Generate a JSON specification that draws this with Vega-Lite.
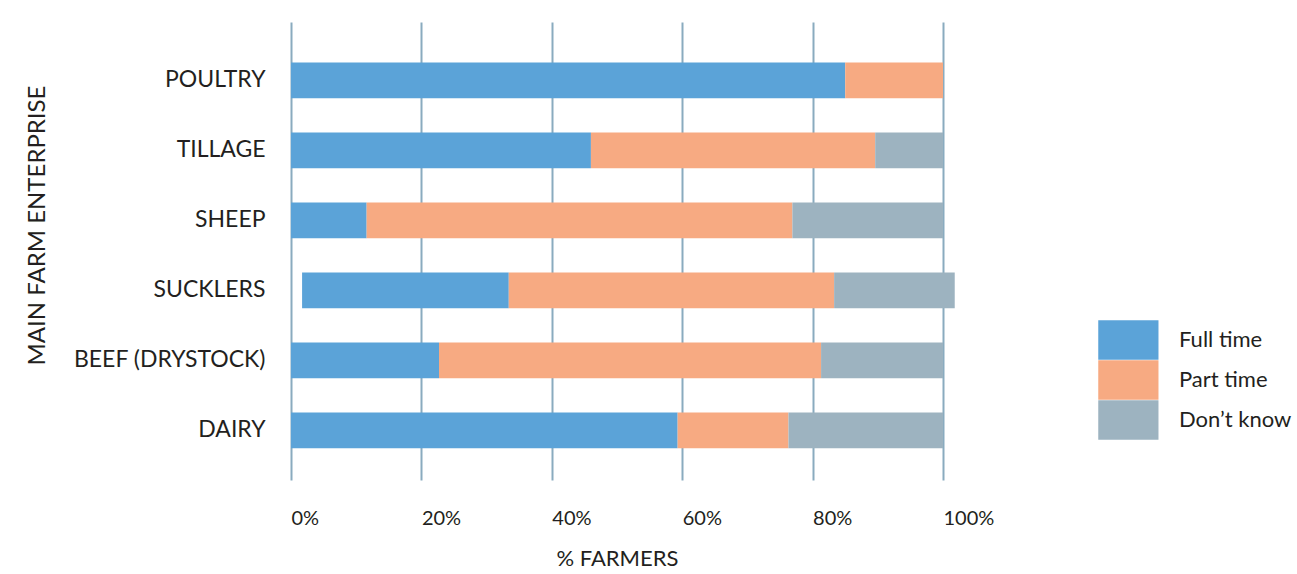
{
  "$schema": "https://vega.github.io/schema/vega-lite/v6.json",
  "autosize": "none",
  "padding": {"left": 291, "top": 22, "right": 354, "bottom": 94},
  "width": 652,
  "height": 458,
  "background": "white",
  "config": {
    "view": {"stroke": null},
    "font": "Lato",
    "axis": {"labelFont": "Lato", "titleFont": "Lato", "labelColor": "#231f20", "titleColor": "#231f20", "titleFontWeight": "normal"},
    "legend": {"labelFont": "Lato", "labelColor": "#231f20"}
  },
  "data": {
    "values": [
      {"enterprise": "POULTRY", "status": "Full time", "start": 0, "end": 85.0},
      {"enterprise": "POULTRY", "status": "Part time", "start": 85.0, "end": 100},
      {"enterprise": "TILLAGE", "status": "Full time", "start": 0, "end": 46.0},
      {"enterprise": "TILLAGE", "status": "Part time", "start": 46.0, "end": 89.6},
      {"enterprise": "TILLAGE", "status": "Don’t know", "start": 89.6, "end": 100},
      {"enterprise": "SHEEP", "status": "Full time", "start": 0, "end": 11.6},
      {"enterprise": "SHEEP", "status": "Part time", "start": 11.6, "end": 76.9},
      {"enterprise": "SHEEP", "status": "Don’t know", "start": 76.9, "end": 100},
      {"enterprise": "SUCKLERS", "status": "Full time", "start": 1.7, "end": 33.4},
      {"enterprise": "SUCKLERS", "status": "Part time", "start": 33.4, "end": 83.3},
      {"enterprise": "SUCKLERS", "status": "Don’t know", "start": 83.3, "end": 101.8},
      {"enterprise": "BEEF (DRYSTOCK)", "status": "Full time", "start": 0, "end": 22.7},
      {"enterprise": "BEEF (DRYSTOCK)", "status": "Part time", "start": 22.7, "end": 81.3},
      {"enterprise": "BEEF (DRYSTOCK)", "status": "Don’t know", "start": 81.3, "end": 100},
      {"enterprise": "DAIRY", "status": "Full time", "start": 0, "end": 59.3},
      {"enterprise": "DAIRY", "status": "Part time", "start": 59.3, "end": 76.3},
      {"enterprise": "DAIRY", "status": "Don’t know", "start": 76.3, "end": 100}
    ]
  },
  "mark": {"type": "bar", "cornerRadius": 0},
  "encoding": {
    "y": {
      "field": "enterprise",
      "type": "nominal",
      "sort": ["POULTRY", "TILLAGE", "SHEEP", "SUCKLERS", "BEEF (DRYSTOCK)", "DAIRY"],
      "scale": {"paddingInner": 0.49, "paddingOuter": 0.516, "align": 0.56},
      "axis": {
        "title": "MAIN FARM ENTERPRISE",
        "titleFontSize": 24,
        "titleX": -254,
        "titleY": 203,
        "titleAngle": -90,
        "titleBaseline": "middle",
        "titleAlign": "center",
        "labelFontSize": 23,
        "labelPadding": 26,
        "labelLimit": 400,
        "ticks": false,
        "domain": false,
        "grid": false
      }
    },
    "x": {
      "field": "start",
      "type": "quantitative",
      "scale": {"domain": [0, 100], "nice": false, "clamp": false},
      "axis": {
        "title": "% FARMERS",
        "titleFontSize": 22,
        "titlePadding": 20,
        "values": [0, 20, 40, 60, 80, 100],
        "labelExpr": "datum.value + '%'",
        "labelAlign": "left",
        "labelFontSize": 20,
        "labelPadding": 28,
        "labelBound": false,
        "labelFlush": false,
        "ticks": false,
        "domain": false,
        "grid": true,
        "gridColor": "#8aabbf",
        "gridWidth": 2
      }
    },
    "x2": {"field": "end"},
    "color": {
      "field": "status",
      "type": "nominal",
      "scale": {"domain": ["Full time", "Part time", "Don’t know"], "range": ["#5ba3d8", "#f7aa82", "#9db3c0"]},
      "legend": {
        "title": null,
        "orient": "none",
        "legendX": 807,
        "legendY": 298,
        "padding": 0,
        "rowPadding": 0,
        "symbolType": "M-1,-1H2.05V1H-1Z",
        "symbolSize": 1560,
        "symbolStrokeWidth": 0,
        "symbolOpacity": 1,
        "labelFontSize": 22,
        "labelOffset": 41,
        "labelLimit": 300
      }
    }
  }
}
